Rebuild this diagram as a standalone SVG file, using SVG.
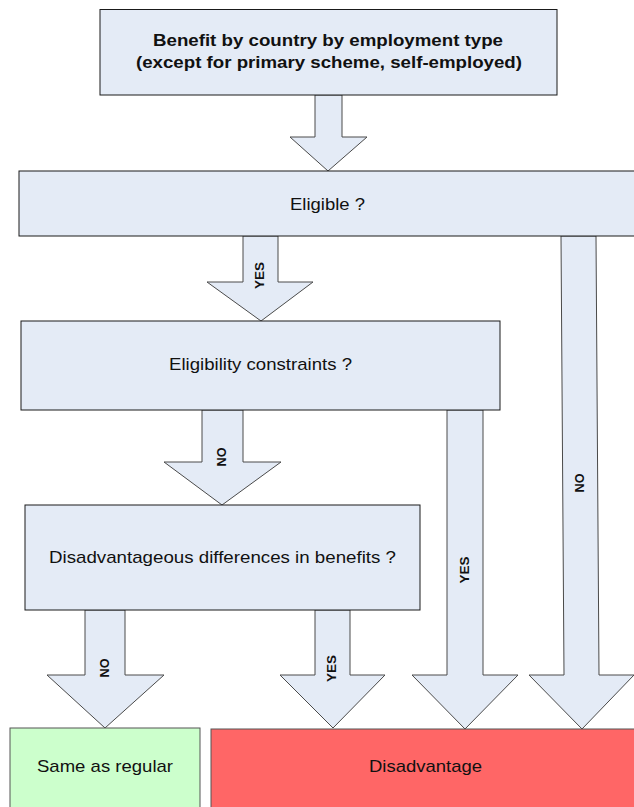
<svg xmlns="http://www.w3.org/2000/svg" width="634" height="807" viewBox="0 0 634 807">
<style>
.box{fill:#e4ebf6;stroke:#1a1a1a;stroke-width:1}
.arr{fill:#e4ebf6;stroke:#4a4a4a;stroke-width:1}
.t{font-family:"Liberation Sans",Arial,sans-serif;font-size:17px;fill:#111;text-anchor:middle}
.tb{font-family:"Liberation Sans",Arial,sans-serif;font-size:16.5px;font-weight:bold;fill:#111;text-anchor:middle}
.lb{font-family:"Liberation Sans",Arial,sans-serif;font-size:12.5px;font-weight:bold;fill:#111;text-anchor:middle}
</style>
<rect width="634" height="807" fill="#fff"/>
<g id="connectors">
<path class="arr" d="M315,95 L342,95 L342,137 L367,137 L328,171 L290,137 L315,137 Z"/>
<path class="arr" d="M243,236 L278,236 L278,282 L313,282 L261,321 L207,282 L243,282 Z"/>
<text class="lb" transform="translate(263.5,275.5) rotate(-90)" textLength="27" lengthAdjust="spacingAndGlyphs">YES</text>
<path class="arr" d="M202,410 L243,410 L243,462 L281,462 L222,505 L164,462 L202,462 Z"/>
<text class="lb" transform="translate(225.5,457) rotate(-90)" textLength="19" lengthAdjust="spacingAndGlyphs">NO</text>
<path class="arr" d="M561,236 L596,236 L599,675 L634,675 L582,729 L529,675 L564,675 Z"/>
<text class="lb" transform="translate(583.5,483) rotate(-90)" textLength="19" lengthAdjust="spacingAndGlyphs">NO</text>
<path class="arr" d="M447,410 L483,410 L483,675 L518,675 L465,729 L412,675 L447,675 Z"/>
<text class="lb" transform="translate(468.5,570) rotate(-90)" textLength="27" lengthAdjust="spacingAndGlyphs">YES</text>
<path class="arr" d="M85,610 L125,610 L125,675 L164,675 L105,728 L47,675 L85,675 Z"/>
<text class="lb" transform="translate(108.5,668) rotate(-90)" textLength="19" lengthAdjust="spacingAndGlyphs">NO</text>
<path class="arr" d="M315,610 L350,610 L350,675 L385,675 L333,728 L280,675 L315,675 Z"/>
<text class="lb" transform="translate(336,668.5) rotate(-90)" textLength="27" lengthAdjust="spacingAndGlyphs">YES</text>
</g>
<g id="start">
<rect class="box" x="100" y="9.5" width="457" height="85.5"/>
<text class="tb" x="328" y="45.7" textLength="350" lengthAdjust="spacingAndGlyphs">Benefit by country by employment type</text>
<text class="tb" x="329" y="67.7" textLength="386" lengthAdjust="spacingAndGlyphs">(except for primary scheme, self-employed)</text>
</g>
<g id="eligible">
<rect class="box" x="19" y="171" width="630" height="65"/>
<text class="t" x="327.5" y="210" textLength="75" lengthAdjust="spacingAndGlyphs">Eligible ?</text>
</g>
<g id="constraints">
<rect class="box" x="21" y="321" width="479" height="89"/>
<text class="t" x="260.5" y="370" textLength="183" lengthAdjust="spacingAndGlyphs">Eligibility constraints ?</text>
</g>
<g id="differences">
<rect class="box" x="25" y="505" width="395" height="105"/>
<text class="t" x="222.5" y="562.7" textLength="347" lengthAdjust="spacingAndGlyphs">Disadvantageous differences in benefits ?</text>
</g>
<g id="same">
<rect x="10" y="728" width="190" height="90" fill="#ccffcc" stroke="#555" stroke-width="1"/>
<text class="t" x="105" y="772" textLength="136" lengthAdjust="spacingAndGlyphs">Same as regular</text>
</g>
<g id="disadvantage">
<rect x="211" y="729" width="430" height="90" fill="#ff6666" stroke="#555" stroke-width="1"/>
<text class="t" x="425.5" y="772" textLength="113" lengthAdjust="spacingAndGlyphs">Disadvantage</text>
</g>
</svg>
